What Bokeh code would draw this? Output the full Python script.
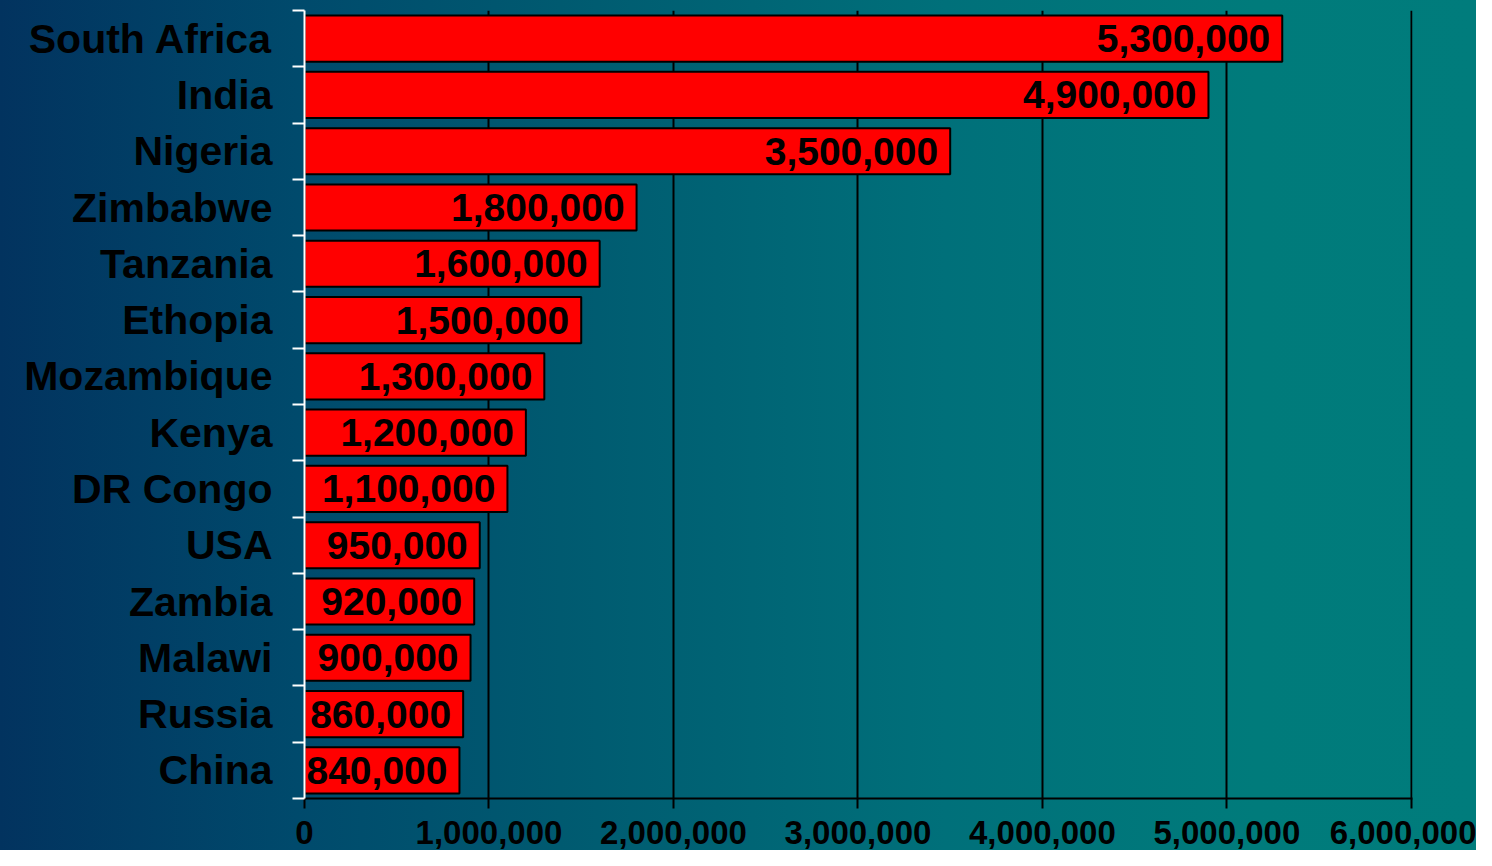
from bokeh.plotting import figure
from bokeh.models import Range1d, FixedTicker, NumeralTickFormatter, ColumnDataSource, LinearAxis
from bokeh.core.properties import value
from bokeh.embed import file_html
from bokeh.resources import INLINE

countries = ["South Africa", "India", "Nigeria", "Zimbabwe", "Tanzania", "Ethopia",
             "Mozambique", "Kenya", "DR Congo", "USA", "Zambia", "Malawi", "Russia", "China"]
values = [5300000, 4900000, 3500000, 1800000, 1600000, 1500000,
          1300000, 1200000, 1100000, 950000, 920000, 900000, 860000, 840000]
x_ticks = [0, 1000000, 2000000, 3000000, 4000000, 5000000, 6000000]

FONT = "Liberation Sans"
n = len(countries)
pos = list(range(n))
labels = [f"{v:,}" for v in values]

src = ColumnDataSource(dict(y=pos, v=values, lab=labels))

p = figure(width=1476, height=850, output_backend="svg", toolbar_location=None,
           x_range=Range1d(0, 6006000), y_range=Range1d(n - 0.5, -0.5),
           min_border_left=304, min_border_right=64, min_border_top=10, min_border_bottom=52,
           x_axis_location=None, y_axis_location=None)
p.background_fill_color = None
p.border_fill_color = None
p.outline_line_color = None
p.styles = {"background-image": "linear-gradient(to right, #02335f 0%, #004a6c 20%, #005a70 38%, #00707a 64%, #007b7b 85%, #007c7c 100%)"}

# grid
p.ygrid.grid_line_color = None
p.xgrid.ticker = FixedTicker(ticks=x_ticks)
p.xgrid.grid_line_color = "black"
p.xgrid.grid_line_width = 2

# bars
p.hbar(y="y", right="v", left=0, height=0.82, source=src,
       fill_color="#ff0000", line_color="black", line_width=2)

# value labels
p.text(x="v", y="y", text="lab", source=src, x_offset=-12,
       text_align="right", text_baseline="middle",
       text_font=value(FONT), text_font_style="bold", text_font_size="39px",
       text_color="black")

# bottom axis
xa = LinearAxis(ticker=FixedTicker(ticks=x_ticks), formatter=NumeralTickFormatter(format="0,0"))
xa.axis_line_color = "black"
xa.axis_line_width = 2
xa.major_tick_line_color = "black"
xa.major_tick_line_width = 2
xa.major_tick_out = 10
xa.major_tick_in = 0
xa.minor_tick_line_color = None
xa.major_label_text_font = FONT
xa.major_label_text_font_style = "bold"
xa.major_label_text_font_size = "33px"
xa.major_label_text_color = "black"
xa.major_label_standoff = 12
p.add_layout(xa, "below")

# left axis: labels at centres, white ticks at boundaries
ya = LinearAxis(ticker=FixedTicker(ticks=pos, minor_ticks=[i - 0.5 for i in range(n + 1)]))
ya.major_label_overrides = {i: c for i, c in enumerate(countries)}
ya.axis_line_color = "white"
ya.axis_line_width = 2
ya.major_tick_line_color = None
ya.major_tick_out = 12
ya.major_tick_in = 0
ya.minor_tick_line_color = "white"
ya.minor_tick_line_width = 2
ya.minor_tick_out = 12
ya.minor_tick_in = 0
ya.major_label_text_font = FONT
ya.major_label_text_font_style = "bold"
ya.major_label_text_font_size = "41px"
ya.major_label_text_color = "black"
ya.major_label_standoff = 20
p.add_layout(ya, "left")

open("out.html", "w").write(file_html(p, INLINE))
